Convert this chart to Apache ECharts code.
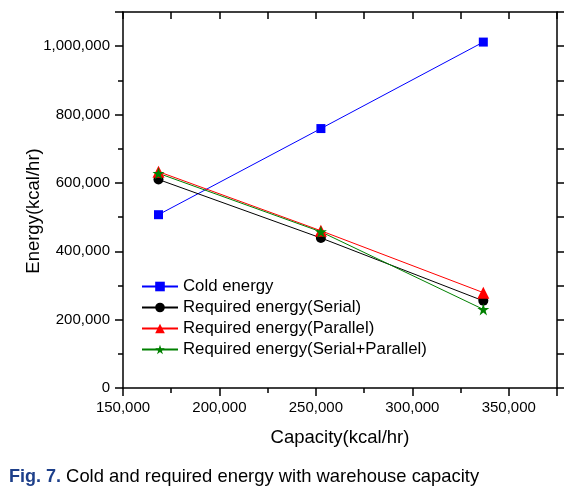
<!DOCTYPE html>
<html>
<head>
<meta charset="utf-8">
<script src="https://cdn.jsdelivr.net/npm/echarts@6/dist/echarts.min.js"></script>
<style>
html,body{margin:0;padding:0;background:#fff;}
#chart{width:585px;height:493px;}
</style>
</head>
<body>
<div id="chart"></div>
<script>
const capacity = [168400, 252600, 336800];
const coldEnergy = [507000, 759000, 1012000];
const requiredSerial = [610000, 439000, 255000];
const requiredParallel = [633000, 460000, 279000];
const requiredSerialParallel = [628000, 457000, 230000];
const seriesNames = ['Cold energy', 'Required energy(Serial)', 'Required energy(Parallel)', 'Required energy(Serial+Parallel)'];
const xTitle = 'Capacity(kcal/hr)';
const yTitle = 'Energy(kcal/hr)';
const captionBold = 'Fig. 7.';
const captionText = ' Cold and required energy with warehouse capacity';

const FONT = 'Liberation Sans, Arial, sans-serif';
const fmt = v => Number(v).toLocaleString('en-US');
const pair = arr => capacity.map((x, i) => [x, arr[i]]);

const chart = echarts.init(document.getElementById('chart'), null, {renderer: 'canvas'});
const lineStyleAxis = {color: '#000', width: 1.5};
const tickStyle = {color: '#000', width: 1.5};
const X_MIN = 150000, X_MAX = 375000, Y_MIN = 0, Y_MAX = 1100000;

const mk = (name, data, color, symbol, size) => ({
  name, type: 'line', data: pair(data), xAxisIndex: 0, yAxisIndex: 0,
  symbol, symbolSize: size,
  lineStyle: {color, width: 1},
  itemStyle: {color},
  animation: false
});

const gridRect = {left: 123, right: 28, top: 12, bottom: 105, containLabel: false};

chart.setOption({
  animation: false,
  backgroundColor: '#fff',
  title: {
    left: 9, top: 468, padding: 0,
    text: '{b|' + captionBold + '}{r|' + captionText + '}',
    textStyle: {
      fontWeight: 'normal',
      rich: {
        b: {fontFamily: FONT, fontSize: 18, fontWeight: 'bold', color: '#1d3f8a'},
        r: {fontFamily: FONT, fontSize: 18.4, fontWeight: 'normal', color: '#000'}
      }
    }
  },
  grid: [Object.assign({}, gridRect), Object.assign({}, gridRect)],
  legend: {
    left: 141, top: 278, orient: 'vertical', padding: 0,
    itemWidth: 36, itemHeight: 12, itemGap: 4,
    textStyle: {fontFamily: FONT, fontSize: 16.8, color: '#000'},
    data: seriesNames
  },
  xAxis: [
    {
      gridIndex: 0, type: 'value', position: 'bottom', min: X_MIN, max: X_MAX, interval: 50000,
      name: xTitle, nameLocation: 'middle', nameGap: 40, nameMoveOverlap: false,
      nameTextStyle: {fontFamily: FONT, fontSize: 18.5, color: '#000'},
      axisLine: {show: true, onZero: false, lineStyle: lineStyleAxis},
      axisTick: {show: true, length: 8, lineStyle: tickStyle},
      axisLabel: {fontFamily: FONT, fontSize: 15, color: '#000', margin: 12,
        formatter: v => (v % 50000 === 0 && v <= 350000) ? fmt(v) : ''},
      splitLine: {show: false}
    },
    {
      gridIndex: 0, type: 'value', position: 'top', min: X_MIN, max: X_MAX, interval: 25000,
      axisLine: {show: true, onZero: false, lineStyle: lineStyleAxis},
      axisTick: {show: true, inside: true, length: 7, lineStyle: tickStyle},
      axisLabel: {show: false}, splitLine: {show: false}
    },
    {
      gridIndex: 1, type: 'value', position: 'bottom', min: X_MIN, max: X_MAX, interval: 25000,
      axisLine: {show: false, onZero: false},
      axisTick: {show: true, length: 5, lineStyle: tickStyle},
      axisLabel: {show: false}, splitLine: {show: false}
    }
  ],
  yAxis: [
    {
      gridIndex: 0, type: 'value', position: 'left', min: Y_MIN, max: Y_MAX, interval: 200000,
      name: yTitle, nameLocation: 'middle', nameGap: 80, nameMoveOverlap: false,
      nameTextStyle: {fontFamily: FONT, fontSize: 18.5, color: '#000', padding: [0, 22, 0, 0]},
      axisLine: {show: true, onZero: false, lineStyle: lineStyleAxis},
      axisTick: {show: true, length: 8, lineStyle: tickStyle},
      axisLabel: {fontFamily: FONT, fontSize: 15, color: '#000', margin: 13,
        formatter: v => (v % 200000 === 0) ? fmt(v) : ''},
      splitLine: {show: false}
    },
    {
      gridIndex: 0, type: 'value', position: 'right', min: Y_MIN, max: Y_MAX, interval: 100000,
      axisLine: {show: true, onZero: false, lineStyle: lineStyleAxis},
      axisTick: {show: true, length: 7, lineStyle: tickStyle},
      axisLabel: {show: false}, splitLine: {show: false}
    },
    {
      gridIndex: 1, type: 'value', position: 'left', min: Y_MIN, max: Y_MAX, interval: 100000,
      axisLine: {show: false, onZero: false},
      axisTick: {show: true, length: 5, lineStyle: tickStyle},
      axisLabel: {show: false}, splitLine: {show: false}
    }
  ],
  series: [
    mk(seriesNames[0], coldEnergy, '#0000ff', 'rect', 9),
    mk(seriesNames[1], requiredSerial, '#000000', 'circle', 10),
    mk(seriesNames[2], requiredParallel, '#ff0000', 'triangle', 12),
    mk(seriesNames[3], requiredSerialParallel, '#008000', 'path://M50,0 L61.8,35.5 L100,35.5 L69.1,57.5 L80.9,93 L50,71 L19.1,93 L30.9,57.5 L0,35.5 L38.2,35.5 Z', 12)
  ]
});
</script>
</body>
</html>
